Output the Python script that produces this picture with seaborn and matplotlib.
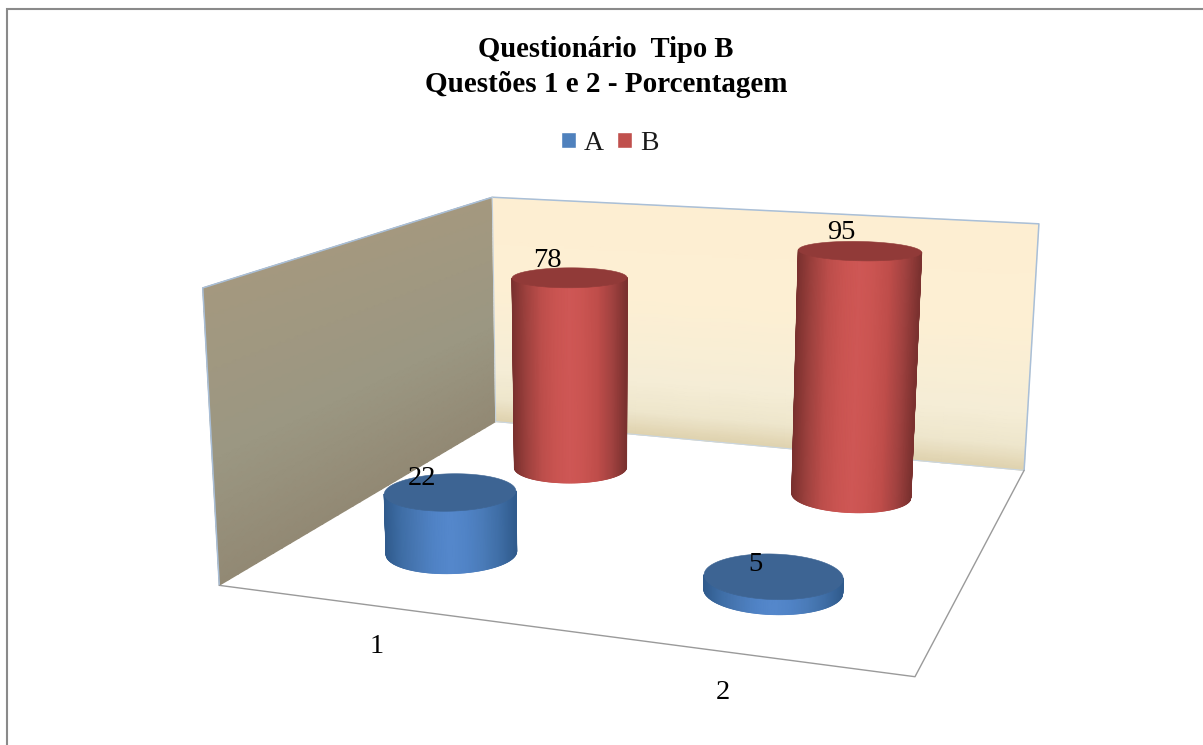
import numpy as np
import matplotlib
matplotlib.use("Agg")
import matplotlib.pyplot as plt
from matplotlib.collections import LineCollection
from matplotlib.colors import LinearSegmentedColormap
from matplotlib.patches import Patch, Polygon
import seaborn as sns

# Chart values
categories = ["1", "2"]
series_names = ["A", "B"]
values_a = [22, 5]
values_b = [78, 95]
title_lines = ["Questionário  Tipo B", "Questões 1 e 2 - Porcentagem"]

sns.set_theme(style="white")
plt.rcParams["font.family"] = ["Liberation Serif", "DejaVu Serif"]

W, H = 1203, 745
fig = plt.figure(figsize=(W / 100, H / 100), dpi=100, facecolor="white")
ax = fig.add_axes([0, 0, 1, 1])
ax.set_xlim(0, W)
ax.set_ylim(H, 0)
ax.axis("off")

# Camera: fitted from the box corners (category pos, series pos, value) -> screen
Z_MAX = 100
world_corners = np.array([
    (0, 0, 0), (0, 1, 0), (1, 1, 0), (1, 0, 0),
    (0, 0, 100), (0, 1, 100), (1, 1, 100)], float)
screen_corners = np.array([
    (219, 585), (496, 422), (1024, 470), (915, 677),
    (203, 288), (492, 197), (1039, 224)], float)


def fit_camera(world, screen):
    rows = []
    for (x, y, z), (u, v) in zip(world, screen / 1000):
        z = z / Z_MAX
        rows.append([x, y, z, 1, 0, 0, 0, 0, -u * x, -u * y, -u * z, -u])
        rows.append([0, 0, 0, 0, x, y, z, 1, -v * x, -v * y, -v * z, -v])
    return np.linalg.svd(np.array(rows))[2][-1].reshape(3, 4)


CAMERA = fit_camera(world_corners, screen_corners)


def project(x, y, z):
    x, y, z = np.broadcast_arrays(np.asarray(x, float), np.asarray(y, float), np.asarray(z, float))
    pts = np.stack([x, y, z / Z_MAX, np.ones_like(x)], axis=-1) @ CAMERA.T
    return 1000 * pts[..., 0] / pts[..., 2], 1000 * pts[..., 1] / pts[..., 2]


# Chart frame: only the top and left rules are visible
ax.plot([6.5, 6.5, W], [H, 8.5, 8.5], color="#8a8a8a", lw=1.5, solid_joinstyle="miter", zorder=1)


def wall(xs, ys, zs, colors, nodes, shade):
    cmap = LinearSegmentedColormap.from_list("wall", list(zip(nodes, colors)))
    X, Y = project(xs, ys, zs)
    ax.pcolormesh(X, Y, shade, cmap=cmap, vmin=0, vmax=1, shading="gouraud", zorder=2, rasterized=True)


# Side wall, toned from the grey-tan centre to the darker foot
sy, sz = np.meshgrid(np.linspace(0, 1, 40), np.linspace(0, 100, 40))
wall(np.zeros_like(sy), sy, sz, ["#928974", "#9b9782", "#a4987f"], [0, 0.3, 1],
     np.where(sz < 45, 0.3 * sz / 45, 0.3 + 0.7 * (sz - 45) / 55))

# Back wall, cream fading into a darker band at the floor
bx, bz = np.meshgrid(np.linspace(0, 1, 8), np.linspace(0, 100, 60))
wall(bx, np.ones_like(bx), bz, ["#dfd2ae", "#eee6cc", "#f5edd6", "#fdefd3", "#fdeed2"],
     [0, 0.1, 0.24, 0.6, 1], bz / 100)

# Box outline
edge_blue = "#a9bfd8"
for pts, col, lw in [
    (((0, 0, 0), (0, 0, 100), (0, 1, 100), (1, 1, 100), (1, 1, 0)), edge_blue, 1.1),
    (((0, 1, 0), (0, 1, 100)), "#c3d0dc", 0.8),
    (((0, 1, 0), (1, 1, 0)), "#c9d6e2", 0.8),
    (((0, 0, 0), (1, 0, 0), (1, 1, 0)), "#9a9a9a", 1.0),
]:
    p = np.array(pts, float)
    ax.plot(*project(p[:, 0], p[:, 1], p[:, 2]), color=col, lw=lw, zorder=3)

# Cylinders
RX, RY = 0.098, 0.098
red_side = LinearSegmentedColormap.from_list("red_side", sns.blend_palette(
    ["#7b312f", "#a0423f", "#bd4e4b", "#ca5451", "#cf5755", "#ca5451", "#bf4d4a", "#a24240", "#7b312f"], 64))
blue_side = LinearSegmentedColormap.from_list("blue_side", sns.blend_palette(
    ["#305b8d", "#3f6ea6", "#4979b6", "#5083c6", "#5588cc", "#5083c6", "#4a7bb8", "#3f6ea6", "#305b8d"], 64))
red_top = "#913a38"
blue_top = "#3d6493"


def near_edge(xs, ys, s):
    # Near arc of a projected ring, sampled evenly between its silhouette points
    lo, hi = int(np.argmin(xs)), int(np.argmax(xs))
    mid = ys[lo] + ys[hi]
    near = ys >= mid / 2
    order = np.argsort(xs[near])
    ex, ey = xs[near][order], ys[near][order]
    gx = xs[lo] + s * (xs[hi] - xs[lo])
    return gx, np.interp(gx, np.r_[xs[lo], ex, xs[hi]], np.r_[ys[lo], ey, ys[hi]])


def cylinder(cx, cy, value, side, top, z):
    t = np.linspace(0, 2 * np.pi, 721)[:-1]
    s = 0.5 - 0.5 * np.cos(np.linspace(0, np.pi, 121))
    bxs, bys = project(cx + RX * np.cos(t), cy + RY * np.sin(t), 0 * t)
    txs, tys = project(cx + RX * np.cos(t), cy + RY * np.sin(t), value + 0 * t)
    gbx, gby = near_edge(bxs, bys, s)
    gtx, gty = near_edge(txs, tys, s)
    X = np.vstack([gtx, gbx])
    Y = np.vstack([gty, gby])
    ax.pcolormesh(X, Y, np.vstack([s, s]), cmap=side, vmin=0, vmax=1, shading="gouraud", zorder=z, rasterized=True)
    # Antialiased rim along the silhouette and the foot of the side face
    rim = np.c_[gbx, gby].reshape(-1, 1, 2)
    segments = np.concatenate([rim[:-1], rim[1:]], axis=1)
    ax.add_collection(LineCollection(segments, colors=side(s[:-1]), linewidths=0.9, zorder=z + 0.05))
    for k in (0, -1):
        ax.plot([gtx[k], gbx[k]], [gty[k], gby[k]], color=side(0.0), lw=0.9, zorder=z + 0.05)
    ax.add_patch(Polygon(np.c_[txs, tys], closed=True, facecolor=top, edgecolor=top, lw=0.4, zorder=z + 0.1))


cat_pos = [0.25, 0.75]
series_pos = {"A": 0.25, "B": 0.75}
# Back row first so the front row overlaps it
for i, v in enumerate(values_b):
    cylinder(cat_pos[i], series_pos["B"], v, red_side, red_top, 4 + i)
for i, v in enumerate(values_a):
    cylinder(cat_pos[i], series_pos["A"], v, blue_side, blue_top, 7 + i)

# Value labels sit up and to the left of each cylinder's top centre
label_font = 20.5
label_offsets = {"A": [(-28, -13.5), (-18, -11.5)], "B": [(-22, -17.5), (-18, -18.5)]}
for name, vals in (("A", values_a), ("B", values_b)):
    for i, v in enumerate(vals):
        px, py = project(cat_pos[i], series_pos[name], v)
        dx, dy = label_offsets[name][i]
        ax.text(float(px) + dx, float(py) + dy, str(v), ha="center", va="center",
                fontsize=label_font, color="black", zorder=20)

# Category labels below the front edge
for i, c in enumerate(categories):
    px, py = project(cat_pos[i], 0, 0)
    ax.text(float(px), float(py) + 41, c, ha="center", va="center",
            fontsize=label_font, color="black", zorder=20)

# Title
ax.text(605.5, 57, title_lines[0], ha="center", va="baseline", fontsize=20.6, fontweight="bold", color="black")
ax.text(606, 91.5, title_lines[1], ha="center", va="baseline", fontsize=21, fontweight="bold", color="black")

# Legend
handles = [Patch(facecolor="#4f81bd", label=series_names[0]), Patch(facecolor="#c0504d", label=series_names[1])]
ax.legend(handles=handles, loc="center", bbox_to_anchor=(609.5 / W, 1 - 143.5 / H), ncol=2, frameon=False,
          fontsize=20, handlelength=0.54, handleheight=0.54, handletextpad=0.28, columnspacing=0.5,
          borderpad=0, labelcolor="#1a1a1a")

fig.savefig("out.png", dpi=100, facecolor="white")
